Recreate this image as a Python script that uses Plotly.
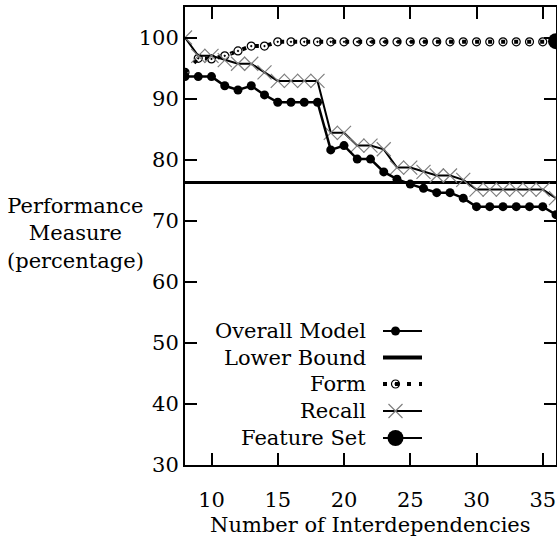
import plotly.graph_objects as go

# ---- data ----
interdependencies = list(range(8, 37))
overall_model = [93.6, 93.6, 93.6, 92.1, 91.4, 92.1, 90.6, 89.4, 89.4, 89.4, 89.4,
                 81.6, 82.3, 80.1, 80.1, 78.0, 76.8, 76.0, 75.3, 74.6, 74.6, 73.7,
                 72.3, 72.3, 72.3, 72.3, 72.3, 72.3, 71.0]
recall = [100.0, 97.0, 97.0, 96.3, 95.7, 95.7, 94.3, 92.9, 92.9, 92.9, 92.9,
          84.4, 84.4, 82.3, 82.3, 81.7, 78.7, 78.7, 78.0, 77.4, 77.4, 76.7,
          75.1, 75.1, 75.1, 75.1, 75.1, 75.1, 73.7]
form = [94.3, 96.6, 96.5, 97.0, 97.8, 98.6, 98.6, 99.3, 99.3, 99.3, 99.3,
        99.3, 99.3, 99.3, 99.3, 99.3, 99.3, 99.3, 99.3, 99.3, 99.3, 99.3,
        99.3, 99.3, 99.3, 99.3, 99.3, 99.3, 99.3]
lower_bound = 76.25
feature_set_x = [36]
feature_set_y = [99.4]

x_ticks = [10, 15, 20, 25, 30, 35]
y_ticks = [30, 40, 50, 60, 70, 80, 90, 100]
legend_labels = ["Overall Model", "Lower Bound", "Form", "Recall", "Feature Set"]

FONT = dict(family="DejaVu Serif", size=21, color="black")
TICKFONT = dict(family="DejaVu Serif", size=21, color="black")
GRAY = "#7f7f7f"

fig = go.Figure()

# ---- main series ----
fig.add_trace(go.Scatter(
    x=[interdependencies[0], interdependencies[-1]], y=[lower_bound, lower_bound],
    mode="lines", line=dict(color="black", width=3), showlegend=False))
fig.add_trace(go.Scatter(
    x=interdependencies, y=form, mode="lines+markers",
    line=dict(color="black", width=4, dash="4px,9px"),
    marker=dict(symbol="circle-open-dot", size=8, color="black", line=dict(width=1.2, color="black")),
    showlegend=False))
fig.add_trace(go.Scatter(
    x=interdependencies, y=recall, mode="lines+markers",
    line=dict(color="black", width=2),
    marker=dict(symbol="x-thin", size=14, line=dict(width=1.2, color=GRAY)),
    showlegend=False))
fig.add_trace(go.Scatter(
    x=interdependencies, y=overall_model, mode="lines+markers",
    line=dict(color="black", width=2.5),
    marker=dict(symbol="circle", size=9, color="black"),
    showlegend=False))
fig.add_trace(go.Scatter(
    x=feature_set_x, y=feature_set_y, mode="markers",
    marker=dict(symbol="circle", size=16, color="black"),
    showlegend=False))

# ---- hand-made legend (symbols to the right of right-aligned labels) ----
# legend axes use pixel units of the plot area
PL, PR, PT, PB = 185, 556, 7, 465
leg_rows = [331, 357.5, 384, 411, 438]
leg_line = [383, 422]
leg_mark_x = 395.5
leg_text_x = 368

leg_styles = [
    dict(line=dict(color="black", width=2), marker=dict(symbol="circle", size=9, color="black")),
    dict(line=dict(color="black", width=4), marker=None),
    dict(line=dict(color="black", width=4, dash="4px,8px"),
         marker=dict(symbol="circle-open-dot", size=8, color="black", line=dict(width=1.2, color="black"))),
    dict(line=dict(color="black", width=2),
         marker=dict(symbol="x-thin", size=14, line=dict(width=1.2, color=GRAY))),
    dict(line=dict(color="black", width=2), marker=dict(symbol="circle", size=16, color="black")),
]
for label, yrow, st in zip(legend_labels, leg_rows, leg_styles):
    fig.add_trace(go.Scatter(x=leg_line, y=[yrow, yrow], mode="lines", line=st["line"],
                             xaxis="x2", yaxis="y2", showlegend=False, hoverinfo="skip"))
    if st["marker"] is not None:
        fig.add_trace(go.Scatter(x=[leg_mark_x], y=[yrow], mode="markers", marker=st["marker"],
                                 xaxis="x2", yaxis="y2", showlegend=False, hoverinfo="skip"))
    fig.add_annotation(x=leg_text_x, y=yrow, xref="x2", yref="y2", text=label,
                       showarrow=False, xanchor="right", yanchor="middle", font=FONT)

axis_common = dict(showgrid=False, zeroline=False, showline=True, linecolor="black", linewidth=2,
                   ticks="inside", ticklen=12, tickwidth=2, tickcolor="black", mirror="ticks",
                   tickfont=TICKFONT, automargin=False)

fig.update_layout(
    width=557, height=537,
    margin=dict(l=PL, r=557 - PR, t=PT, b=537 - PB, autoexpand=False),
    paper_bgcolor="white", plot_bgcolor="white",
    showlegend=False,
    xaxis=dict(range=[interdependencies[0], interdependencies[-1]], tickvals=x_ticks,
               ticklabelstandoff=15, **axis_common),
    yaxis=dict(range=[30, 105], tickvals=y_ticks, ticklabelstandoff=0, **axis_common),
    xaxis2=dict(range=[PL, PR], overlaying="x", visible=False, fixedrange=True),
    yaxis2=dict(range=[PB, PT], overlaying="y", visible=False, fixedrange=True),
)

fig.add_annotation(x=0.5, y=-0.131, xref="paper", yref="paper",
                   text="Number of Interdependencies", showarrow=False,
                   xanchor="center", yanchor="middle", font=FONT)
fig.add_annotation(x=(75 - PL) / (PR - PL), y=(PB - 233) / (PB - PT), xref="paper", yref="paper",
                   text="Performance<br>Measure<br>(percentage)", showarrow=False,
                   xanchor="center", yanchor="middle", align="center", font=FONT)

fig.write_html("out.html", config={"displayModeBar": False},
               post_script="document.body.style.margin='0';document.body.style.overflow='hidden';")
